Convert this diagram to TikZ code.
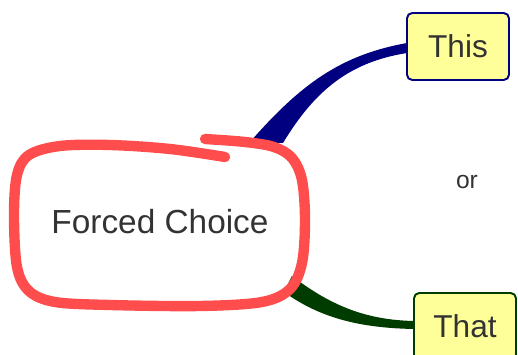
\documentclass[tikz,border=0pt]{standalone}
\usepackage{fontspec}
\setmainfont{Liberation Sans}
\usetikzlibrary{calc}

\definecolor{blob}{RGB}{255,77,77}
\definecolor{navyline}{RGB}{0,0,128}
\definecolor{greenline}{RGB}{0,60,0}
\definecolor{boxfill}{RGB}{255,255,153}
\definecolor{inkgray}{RGB}{51,51,51}

\pgfdeclarelayer{back}
\pgfsetlayers{back,main}

\tikzset{
  choicebox/.style={draw, line width=1.1pt, rounded corners=3pt, fill=boxfill,
    minimum width=2.04cm, minimum height=1.34cm, inner sep=0pt,
    text=inkgray, font=\fontsize{18}{20}\selectfont},
}

\begin{document}
\begin{tikzpicture}[x=0.02cm,y=0.02cm]
		\clip (0,0) rectangle (518,355);
		% the loop round the topic
		\draw[blob, line width=5.9pt, line cap=round, line join=round] plot[smooth, tension=0.55] coordinates {
			(205,216) (245,213) (274,208) (292,197) (302,175) (305,135) (302,92) (290,66) (262,53)
			(200,49) (110,50) (55,53) (29,64) (17,88) (14,140) (17,180) (29,200) (60,209)
			(110,210) (170,206) (225,198)};
		\node[text=inkgray, font=\fontsize{19}{21}\selectfont] (choice) at (160,133.5){Forced Choice};
		\node[text=inkgray, font=\fontsize{14}{16}\selectfont] (or) at (467,173){or};
		% boxes
		\node[choicebox, draw=navyline] (this) at (458,308.5){This};
		\node[choicebox, draw=greenline] (that) at (465,28.5){That};
		\coordinate (up) at (266,212);
		\coordinate (down) at (288,71);
		% tapered branches
		\begin{pgfonlayer}{back}
		\fill[navyline] ($(up)+(-16,1)$) .. controls ($(up)+(34,58)$) and ($(up)+(74,88)$) .. ($(this.west)+(1,3.5)$)
			-- ($(this.west)+(1,-6.5)$) .. controls ($(up)+(84,81)$) and ($(up)+(49,53)$) .. ($(up)+(17,0)$) -- cycle;
		\fill[greenline] ($(down)+(4,8)$) .. controls ($(down)+(42,-21)$) and ($(down)+(77,-36)$) .. ($(that.west)+(1,5.5)$)
			-- ($(that.west)+(1,-2.5)$) .. controls ($(down)+(72,-44)$) and ($(down)+(32,-34)$) .. ($(down)+(-4,-8)$) -- cycle;
		\end{pgfonlayer}
	\end{tikzpicture}
\end{document}
